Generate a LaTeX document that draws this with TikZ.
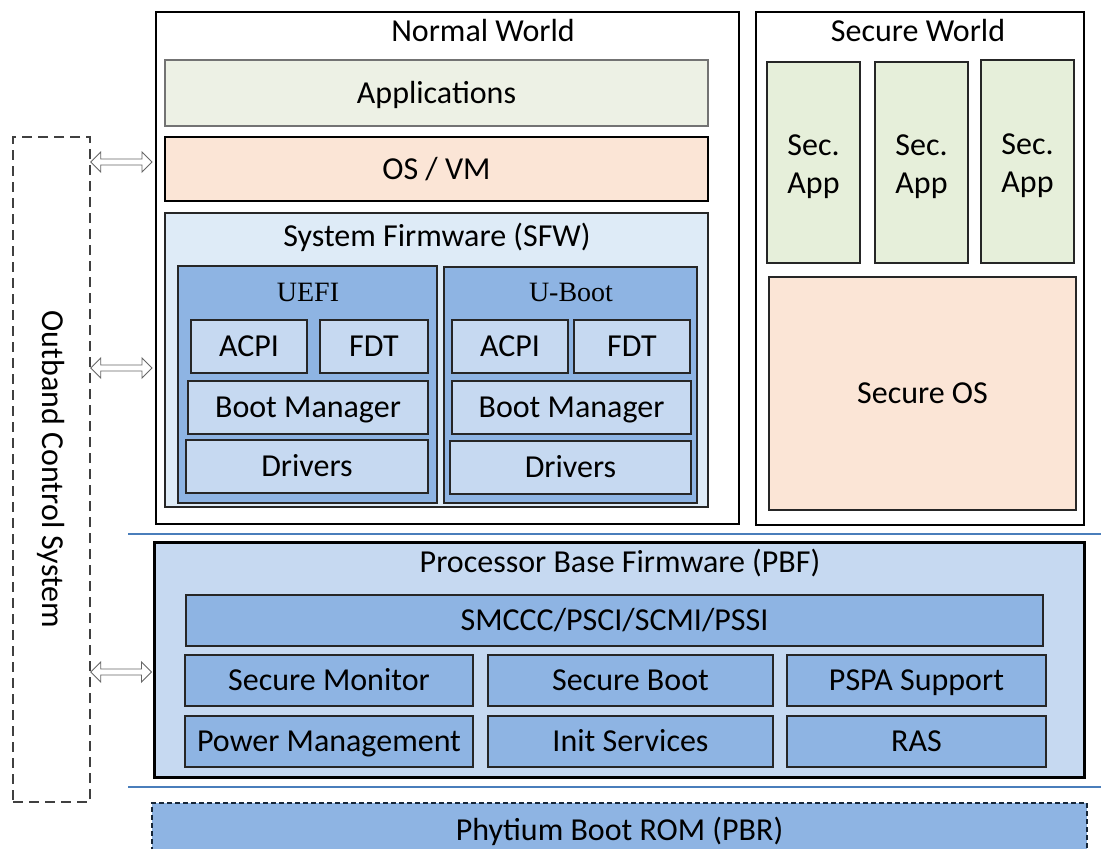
\documentclass[tikz,border=0pt]{standalone}
\usepackage{fontspec}
\setmainfont{Carlito}
\newfontfamily\serifface{Liberation Serif}
\usetikzlibrary{fit,calc}

\definecolor{appfill}{HTML}{EDF1E5}
\definecolor{secfill}{HTML}{E6EFDA}
\definecolor{peach}{HTML}{FBE5D6}
\definecolor{paleblue}{HTML}{DEEBF7}
\definecolor{midblue}{HTML}{8EB4E3}
\definecolor{lightblue}{HTML}{C6D9F1}
\definecolor{rulecol}{HTML}{4A7EBB}
\definecolor{edge}{HTML}{262626}

% hollow double-headed arrow between two points on one horizontal line
\newcommand\hollowarrow[2]{%
  \draw[harrow] (#1) -- ++(10,-10) -- ++(0,7) -- ($(#2)+(-10,-3)$) -- ++(0,-7)
    -- (#2) -- ++(-10,10) -- ++(0,-7) -- ($(#1)+(10,3)$) -- ++(0,7) -- cycle;}

\begin{document}
\begin{tikzpicture}[x=1pt,y=-1pt,
  bigfont/.style={font=\fontsize{32}{38}\selectfont},
  txt/.style={bigfont, text height=24pt, text depth=4pt},
  stxt/.style={font=\serifface\fontsize{28}{32}\selectfont},
  box/.style={draw=edge, line width=1.5pt, inner sep=0pt},
  world/.style={draw=black, line width=2pt, inner sep=0pt, fill=white},
  blk/.style={box, fill=midblue},
  sub/.style={box, fill=lightblue},
  say/.style={label={[txt]center:#1}},
  saytwo/.style={label={[bigfont, align=center, yshift=-4pt]center:#1}},
  harrow/.style={draw=black!60, line width=0.9pt, fill=white, line join=miter},
  rule/.style={draw=rulecol, line width=1.6pt}]
\useasboundingbox (0,0) rectangle (1101,849);
\clip (0,0) rectangle (1101,849);

% Normal world
\node[world, fit={(156,12)(739,524)}] (nw) {};
\node[txt] (nwl) at (483,31) {Normal World};
\node[box, draw=black!55, fill=appfill, fit={(165,60)(708,126)}, say=Applications] (apps) {};
\node[box, draw=black, fill=peach, fit={(165,137)(708,201)}, say={OS / VM}] (os) {};
\node[box, fill=paleblue, fit={(165,213)(708,507)}] (sfw) {};
\node[txt] (sfwl) at (437,236) {System Firmware (SFW)};

% UEFI
\node[blk, line width=2pt, fit={(178,266)(437,503)}] (uefi) {};
\node[stxt] (uefil) at (308,292) {UEFI};
\node[sub, fit={(191,320)(307,373)}, say=ACPI] (uacpi) {};
\node[sub, fit={(320,320)(428,373)}, say=FDT] (ufdt) {};
\node[sub, fit={(188,381)(428,434)}, say={Boot Manager}] (ubm) {};
\node[sub, fit={(186,440)(428,493)}, say=Drivers] (udrv) {};

% U-Boot
\node[blk, line width=2pt, fit={(444,267)(697,503)}] (uboot) {};
\node[stxt] (ubootl) at (571,292) {U-Boot};
\node[sub, fit={(452,320)(568,373)}, say=ACPI] (bacpi) {};
\node[sub, fit={(574,320)(690,373)}, say=FDT] (bfdt) {};
\node[sub, fit={(452,381)(691,434)}, say={Boot Manager}] (bbm) {};
\node[sub, fit={(450,441)(691,494)}, say=Drivers] (bdrv) {};

% Secure world
\node[world, fit={(756,12)(1084,525)}] (sw) {};
\node[txt] (swl) at (918,31) {Secure World};
\node[box, fill=secfill, fit={(767,62)(860,263)}, saytwo={Sec.\\App}] (sa1) {};
\node[box, fill=secfill, fit={(875,62)(968,263)}, saytwo={Sec.\\App}] (sa2) {};
\node[box, fill=secfill, line width=2pt, fit={(981,60)(1074,263)}, saytwo={Sec.\\App}] (sa3) {};
\node[box, fill=peach, fit={(769,277)(1076,510)}, say={Secure OS}] (sos) {};

% layer separators
\coordinate (r1a) at (128,534);
\coordinate (r1b) at (1101,534);
\coordinate (r2a) at (128,787);
\coordinate (r2b) at (1101,787);
\draw[rule] (r1a) -- (r1b);
\draw[rule] (r2a) -- (r2b);

% Processor base firmware
\node[box, draw=black, line width=3pt, fill=lightblue, fit={(154,542)(1084,777)}] (pbf) {};
\node[txt] (pbfl) at (620,562) {Processor Base Firmware (PBF)};
\node[blk, fit={(186,595)(1043,646)}, say={SMCCC/PSCI/SCMI/PSSI}] (smc) {};
\node[blk, fit={(185,655)(473,706)}, say={Secure Monitor}] (smon) {};
\node[blk, fit={(488,655)(773,706)}, say={Secure Boot}] (sboot) {};
\node[blk, fit={(787,655)(1046,706)}, say={PSPA Support}] (pspa) {};
\node[blk, fit={(185,716)(473,767)}, say={Power Management}] (pm) {};
\node[blk, fit={(488,716)(773,767)}, say={Init Services}] (init) {};
\node[blk, fit={(787,716)(1046,767)}, say=RAS] (ras) {};

% Boot ROM
\node[box, draw=black!70!rulecol, line width=1.2pt, dash pattern=on 5pt off 3pt,
      fill=midblue, fit={(152,803)(1087,857)}, say={Phytium Boot ROM (PBR)}] (pbr) {};

% Outband control system
\node[draw=black!75, line width=1.5pt, dash pattern=on 10pt off 6pt, inner sep=0pt,
      fit={(13,137)(90,802)}] (ocs) {};
\node[bigfont, rotate=-90] (ocsl) at (ocs.center) {Outband Control System};

% links to the outband controller
\coordinate (y1) at (0,162);
\coordinate (y2) at (0,368);
\coordinate (y3) at (0,672);
\coordinate (a1l) at (ocs.east |- y1);
\coordinate (a1r) at ($(nw.west |- y1)+(-3,0)$);
\coordinate (a2l) at (ocs.east |- y2);
\coordinate (a2r) at ($(nw.west |- y2)+(-3,0)$);
\coordinate (a3l) at (ocs.east |- y3);
\coordinate (a3r) at ($(pbf.west |- y3)+(-1,0)$);
\hollowarrow{a1l}{a1r}
\hollowarrow{a2l}{a2r}
\hollowarrow{a3l}{a3r}
\end{tikzpicture}
\end{document}
